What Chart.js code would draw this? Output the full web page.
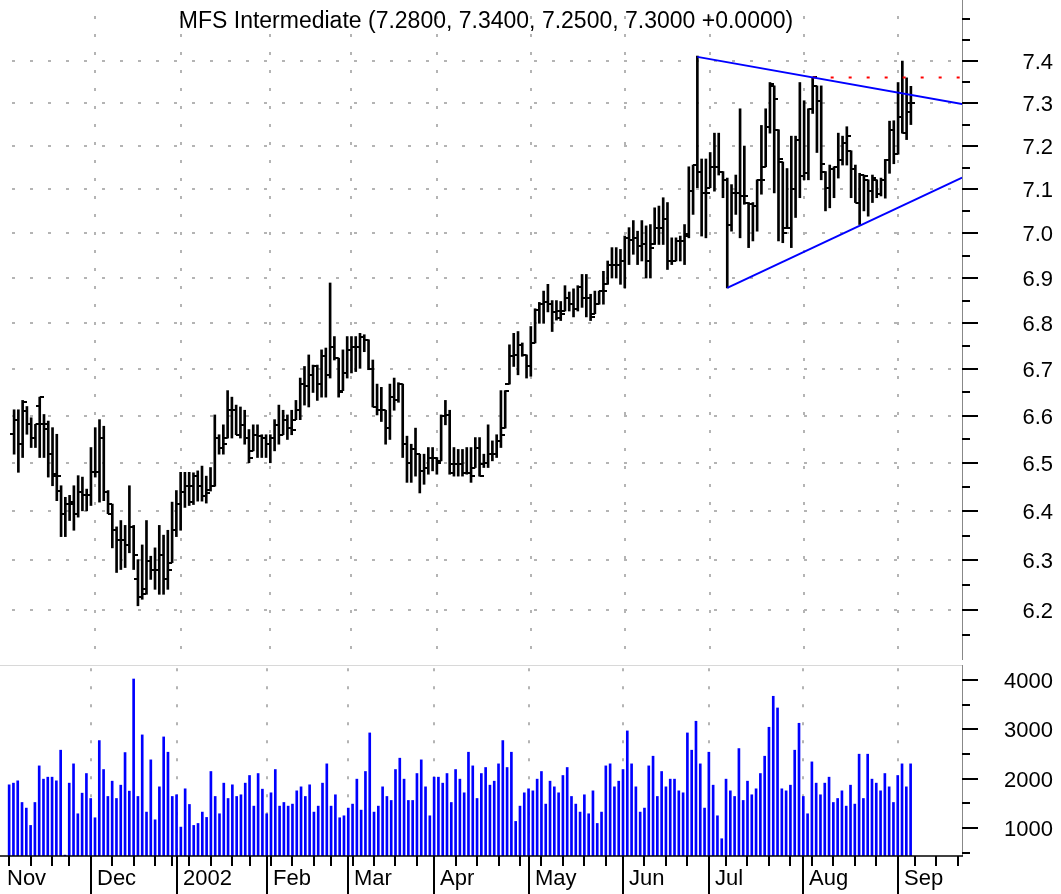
<!DOCTYPE html>
<html>
<head>
<meta charset="utf-8">
<script src="https://cdn.jsdelivr.net/npm/chart.js@4.4.1/dist/chart.umd.min.js"></script>
<style>
  body { margin: 0; background: #fff; }
  canvas { display: block; }
</style>
</head>
<body>
<canvas id="priceChart" width="1061" height="665"></canvas>
<canvas id="volumeChart" width="1061" height="229"></canvas>
<script>
// daily bars from Nov 5 2001 to Sep 6 2002, x = trading day number
const highPrices = [
  6.613, 6.613, 6.633, 6.620, 6.596, 6.582, 6.640, 6.603, 6.589, 6.575,
  6.561, 6.453, 6.429, 6.433, 6.453, 6.474, 6.471, 6.446, 6.533, 6.575,
  6.592, 6.578, 6.443, 6.415, 6.368, 6.381, 6.371, 6.453, 6.371, 6.301,
  6.331, 6.381, 6.308, 6.325, 6.371, 6.351, 6.361, 6.419, 6.443, 6.481,
  6.481, 6.481, 6.480, 6.484, 6.494, 6.473, 6.491, 6.602, 6.560, 6.581,
  6.654, 6.640, 6.623, 6.619, 6.612, 6.571, 6.581, 6.581, 6.560, 6.560,
  6.560, 6.592, 6.623, 6.612, 6.602, 6.612, 6.633, 6.681, 6.706, 6.731,
  6.709, 6.709, 6.742, 6.746, 6.889, 6.771, 6.724, 6.742, 6.771, 6.771,
  6.771, 6.778, 6.775, 6.764, 6.720, 6.668, 6.661, 6.612, 6.668, 6.681,
  6.671, 6.668, 6.557, 6.540, 6.574, 6.519, 6.519, 6.533, 6.533, 6.512,
  6.602, 6.633, 6.612, 6.533, 6.529, 6.529, 6.533, 6.533, 6.554, 6.554,
  6.519, 6.581, 6.547, 6.560, 6.654, 6.654, 6.753, 6.778, 6.782, 6.757,
  6.731, 6.793, 6.832, 6.846, 6.871, 6.886, 6.850, 6.850, 6.848, 6.883,
  6.869, 6.876, 6.883, 6.908, 6.908, 6.864, 6.871, 6.871, 6.915, 6.938,
  6.968, 6.968, 6.964, 6.994, 7.013, 7.029, 7.005, 7.029, 7.017, 7.020,
  7.058, 7.062, 7.081, 7.070, 6.990, 6.990, 6.994, 7.020, 7.152, 7.156,
  7.412, 7.170, 7.170, 7.185, 7.230, 7.230, 7.141, 7.126, 7.111, 7.133,
  7.287, 7.200, 7.070, 7.070, 7.122, 7.248, 7.287, 7.349, 7.341, 7.238,
  7.163, 7.148, 7.223, 7.223, 7.349, 7.306, 7.287, 7.361, 7.341, 7.341,
  7.141, 7.156, 7.152, 7.230, 7.223, 7.245, 7.189, 7.156, 7.137, 7.133,
  7.122, 7.133, 7.122, 7.126, 7.169, 7.258, 7.259, 7.349, 7.400, 7.360,
  7.340
];
const lowPrices = [
  6.519, 6.481, 6.512, 6.561, 6.533, 6.533, 6.512, 6.512, 6.471, 6.453,
  6.422, 6.348, 6.348, 6.381, 6.361, 6.388, 6.401, 6.401, 6.412, 6.471,
  6.419, 6.422, 6.395, 6.325, 6.275, 6.281, 6.285, 6.315, 6.281, 6.208,
  6.221, 6.231, 6.261, 6.241, 6.231, 6.231, 6.241, 6.295, 6.348, 6.361,
  6.408, 6.412, 6.414, 6.421, 6.421, 6.417, 6.442, 6.452, 6.519, 6.519,
  6.553, 6.553, 6.560, 6.553, 6.540, 6.501, 6.526, 6.512, 6.512, 6.512,
  6.501, 6.526, 6.540, 6.560, 6.550, 6.560, 6.592, 6.592, 6.623, 6.619,
  6.650, 6.633, 6.640, 6.640, 6.681, 6.720, 6.640, 6.654, 6.681, 6.692,
  6.695, 6.702, 6.738, 6.699, 6.619, 6.602, 6.588, 6.540, 6.550, 6.612,
  6.629, 6.512, 6.460, 6.460, 6.473, 6.438, 6.456, 6.477, 6.484, 6.477,
  6.505, 6.581, 6.477, 6.473, 6.473, 6.473, 6.477, 6.460, 6.491, 6.473,
  6.491, 6.491, 6.505, 6.512, 6.533, 6.574, 6.668, 6.706, 6.688, 6.728,
  6.681, 6.685, 6.757, 6.800, 6.800, 6.825, 6.782, 6.807, 6.806, 6.827,
  6.827, 6.814, 6.827, 6.835, 6.814, 6.806, 6.821, 6.842, 6.842, 6.886,
  6.900, 6.900, 6.886, 6.878, 6.930, 6.953, 6.930, 6.938, 6.900, 6.900,
  6.975, 6.975, 6.975, 6.919, 6.930, 6.938, 6.938, 6.930, 6.990, 7.043,
  7.104, 6.994, 6.990, 7.104, 7.096, 7.133, 7.081, 6.878, 7.005, 7.043,
  6.990, 7.066, 6.968, 6.983, 7.005, 7.089, 7.152, 7.230, 7.092, 6.983,
  6.979, 7.013, 6.968, 7.036, 7.081, 7.122, 7.122, 7.276, 7.185, 7.122,
  7.051, 7.058, 7.081, 7.126, 7.156, 7.156, 7.081, 7.070, 7.020, 7.051,
  7.039, 7.070, 7.081, 7.085, 7.080, 7.137, 7.159, 7.181, 7.230, 7.215,
  7.250
];
const openPrices = [
  6.561, 6.592, 6.540, 6.610, 6.582, 6.554, 6.620, 6.582, 6.572, 6.519,
  6.474, 6.443, 6.395, 6.415, 6.415, 6.395, 6.440, 6.433, 6.433, 6.481,
  6.481, 6.554, 6.440, 6.395, 6.361, 6.341, 6.341, 6.331, 6.368, 6.261,
  6.225, 6.241, 6.298, 6.281, 6.281, 6.311, 6.261, 6.295, 6.361, 6.415,
  6.440, 6.453, 6.452, 6.473, 6.452, 6.431, 6.445, 6.452, 6.553, 6.533,
  6.553, 6.612, 6.612, 6.560, 6.581, 6.553, 6.526, 6.560, 6.557, 6.553,
  6.540, 6.553, 6.581, 6.560, 6.592, 6.574, 6.592, 6.612, 6.668, 6.664,
  6.688, 6.706, 6.668, 6.728, 6.688, 6.749, 6.724, 6.654, 6.692, 6.742,
  6.749, 6.749, 6.771, 6.764, 6.700, 6.619, 6.612, 6.612, 6.574, 6.640,
  6.633, 6.668, 6.540, 6.501, 6.529, 6.519, 6.484, 6.491, 6.512, 6.512,
  6.505, 6.599, 6.602, 6.498, 6.498, 6.498, 6.480, 6.480, 6.491, 6.533,
  6.498, 6.501, 6.519, 6.519, 6.547, 6.574, 6.668, 6.728, 6.731, 6.753,
  6.731, 6.706, 6.757, 6.829, 6.843, 6.846, 6.843, 6.825, 6.827, 6.827,
  6.856, 6.842, 6.831, 6.880, 6.856, 6.856, 6.821, 6.842, 6.871, 6.886,
  6.930, 6.930, 6.930, 6.938, 6.990, 6.986, 6.990, 6.971, 6.975, 6.938,
  6.975, 7.013, 7.013, 7.032, 6.938, 6.938, 6.983, 6.983, 6.998, 7.096,
  7.156, 7.141, 7.092, 7.104, 7.152, 7.152, 7.141, 7.122, 7.020, 7.092,
  7.092, 7.085, 7.070, 7.066, 7.062, 7.122, 7.152, 7.245, 7.341, 7.238,
  7.163, 7.013, 7.013, 7.100, 7.215, 7.130, 7.137, 7.287, 7.341, 7.306,
  7.141, 7.104, 7.148, 7.152, 7.167, 7.208, 7.189, 7.148, 7.070, 7.133,
  7.122, 7.096, 7.122, 7.089, 7.122, 7.167, 7.238, 7.181, 7.268, 7.230,
  7.280
];
const closePrices = [
  6.592, 6.540, 6.630, 6.582, 6.554, 6.582, 6.640, 6.582, 6.519, 6.478,
  6.474, 6.395, 6.415, 6.419, 6.395, 6.440, 6.433, 6.433, 6.481, 6.481,
  6.554, 6.440, 6.415, 6.361, 6.341, 6.341, 6.331, 6.368, 6.311, 6.225,
  6.231, 6.298, 6.281, 6.281, 6.311, 6.261, 6.281, 6.361, 6.415, 6.440,
  6.453, 6.419, 6.473, 6.452, 6.431, 6.438, 6.452, 6.553, 6.533, 6.540,
  6.612, 6.612, 6.560, 6.581, 6.553, 6.512, 6.560, 6.557, 6.553, 6.540,
  6.553, 6.581, 6.560, 6.592, 6.574, 6.571, 6.612, 6.668, 6.664, 6.688,
  6.706, 6.668, 6.728, 6.688, 6.749, 6.724, 6.650, 6.692, 6.742, 6.749,
  6.749, 6.771, 6.764, 6.700, 6.619, 6.612, 6.612, 6.574, 6.640, 6.633,
  6.668, 6.540, 6.501, 6.529, 6.519, 6.484, 6.491, 6.512, 6.512, 6.501,
  6.599, 6.602, 6.480, 6.498, 6.498, 6.480, 6.480, 6.473, 6.533, 6.473,
  6.501, 6.519, 6.519, 6.547, 6.560, 6.654, 6.728, 6.731, 6.753, 6.731,
  6.706, 6.757, 6.829, 6.843, 6.846, 6.843, 6.825, 6.811, 6.820, 6.856,
  6.842, 6.831, 6.880, 6.856, 6.856, 6.814, 6.842, 6.871, 6.871, 6.930,
  6.930, 6.930, 6.938, 6.990, 6.986, 6.990, 6.971, 6.975, 6.938, 6.968,
  7.013, 7.013, 7.032, 6.938, 6.938, 6.983, 6.983, 6.994, 7.096, 7.156,
  7.141, 7.092, 7.092, 7.152, 7.152, 7.141, 7.122, 7.020, 7.092, 7.092,
  7.085, 7.085, 7.066, 7.062, 7.122, 7.122, 7.245, 7.345, 7.310, 7.170,
  7.002, 7.013, 7.100, 7.215, 7.130, 7.137, 7.287, 7.361, 7.306, 7.159,
  7.104, 7.148, 7.152, 7.167, 7.208, 7.223, 7.148, 7.070, 7.133, 7.130,
  7.096, 7.126, 7.089, 7.122, 7.167, 7.238, 7.181, 7.268, 7.230, 7.300,
  7.300
];
const volumes = [
  1875, 1909, 1956, 1517, 1403, 1052, 1517, 2259, 1990, 2030,
  2030, 1956, 2577, 450, 1909, 2300, 1288, 1706, 2104, 1598,
  1207, 2772, 2185, 1639, 1949, 1598, 1868, 2529, 1747, 4020,
  1639, 2887, 1322, 2381, 1166, 1834, 2846, 2536, 1639, 1673,
  1018, 1794, 1477, 1052, 1092, 1322, 1214, 2145, 1639, 1288,
  1909, 1598, 1875, 1639, 1673, 1909, 2064, 1443, 2104, 1787,
  1288, 1713, 2185, 1443, 1517, 1443, 1484, 1753, 1834, 1639,
  1875, 1322, 1443, 1909, 2300, 1443, 1673, 1207, 1247, 1403,
  1484, 1990, 1362, 2145, 2927, 1322, 1443, 1834, 1639, 1558,
  2185, 2415, 1990, 1558, 1558, 2104, 2381, 1834, 1247, 2030,
  2030, 1909, 2104, 1517, 2185, 1990, 1713, 2536, 2259, 1598,
  2104, 2226, 1868, 1949, 2300, 2772, 2226, 2536, 1133, 1443,
  1713, 1794, 1753, 1990, 2145, 1484, 1949, 1834, 1713, 2064,
  2226, 1639, 1484, 1322, 1673, 1288, 1753, 1092, 1322, 2259,
  2300, 1834, 1949, 2185, 2968, 2300, 1834, 1322, 1403, 2259,
  2455, 1639, 2145, 1834, 1990, 1990, 1753, 1713, 2927, 2577,
  3164, 2300, 1403, 2536, 1868, 1247, 782, 1990, 1753, 1639,
  2610, 1558, 1949, 1673, 1794, 2104, 2455, 3042, 3670, 3433,
  1794, 1753, 1868, 2577, 3123, 1639, 1288, 2340, 1909, 1673,
  1909, 2030, 1517, 1598, 1753, 1443, 1868, 1484, 2496, 1598,
  2496, 1990, 1909, 1753, 2104, 1834, 1517, 2064, 2300, 1834,
  2300
];

// axis categories
const monthStarts = [-2, 19, 39, 60, 79, 99, 121, 143, 163, 185, 207];
const monthLabels = ['Nov', 'Dec', '2002', 'Feb', 'Mar', 'Apr', 'May', 'Jun', 'Jul', 'Aug', 'Sep'];
const weekStarts = [0, 5, 10, 14, 19, 24, 29, 34, 38, 42, 47, 52, 56, 61, 66, 71, 75, 80, 85, 90,
  95, 99, 104, 109, 114, 119, 124, 129, 134, 139, 143, 148, 153, 158, 163, 167, 172, 177, 182,
  187, 192, 197, 202, 207, 211, 216, 221];
const priceLabels = ['6.2', '6.3', '6.4', '6.5', '6.6', '6.7', '6.8', '6.9', '7.0', '7.1', '7.2', '7.3', '7.4'];
const priceMinorTicks = [6.15, 6.25, 6.35, 6.45, 6.55, 6.65, 6.75, 6.85, 6.95, 7.05, 7.15, 7.25, 7.35, 7.45, 7.5];
const volumeLabels = ['1000', '2000', '3000', '4000'];
const volumeMinorTicks = [500, 1500, 2500, 3500];

// drawn lines (trading day, price)
const upperTrendX = [160, 222];
const upperTrendY = [7.41, 7.298];
const lowerTrendX = [167, 222];
const lowerTrendY = [6.878, 7.127];
const resistanceX = [187, 222];
const resistanceY = [7.361, 7.361];

const X_MIN = -2.13, X_MAX = 221.97;
const AXIS_W = 99;
const FONT = '22px "Liberation Sans", Arial, sans-serif';
const TITLE_FONT = '23px "Liberation Sans", Arial, sans-serif';
const GRID = '#b4b4b4';

const last = closePrices.length - 1;
const change = closePrices[last] - closePrices[last - 1];
const titleText = 'MFS Intermediate (' + openPrices[last].toFixed(4) + ', ' + highPrices[last].toFixed(4) + ', ' +
  lowPrices[last].toFixed(4) + ', ' + closePrices[last].toFixed(4) + ' ' + (change >= 0 ? '+' : '') + change.toFixed(4) + ')';

const toPoints = (xs, ys) => xs.map((x, i) => ({ x: x, y: ys[i] }));

function tickImage(side) {
  const c = document.createElement('canvas');
  c.width = 8; c.height = 2;
  const g = c.getContext('2d');
  g.fillStyle = '#000';
  g.fillRect(side === 'left' ? 0 : 4, 0, 4, 2);
  return c;
}

function seg(ctx, x1, y1, x2, y2) {
  ctx.beginPath(); ctx.moveTo(x1, y1); ctx.lineTo(x2, y2); ctx.stroke();
}

function drawMonthGrid(chart, dashOffset) {
  const { ctx, chartArea: a, scales: { x } } = chart;
  ctx.save();
  ctx.strokeStyle = GRID; ctx.lineWidth = 2;
  ctx.setLineDash([3, 15]); ctx.lineDashOffset = dashOffset;
  monthStarts.forEach(i => {
    if (i < 0) return;
    const px = Math.round(x.getPixelForValue(i));
    seg(ctx, px, a.top, px, a.bottom);
  });
  ctx.restore();
}

function drawRightAxis(chart, scale, labels, minors, baselineShift) {
  const { ctx, chartArea: a } = chart;
  ctx.save();
  ctx.strokeStyle = '#888'; ctx.lineWidth = 1;
  seg(ctx, a.right + 0.5, 0, a.right + 0.5, a.bottom);
  ctx.strokeStyle = '#000'; ctx.lineWidth = 2;
  minors.forEach(v => {
    const y = Math.round(scale.getPixelForValue(v));
    seg(ctx, a.right, y, a.right + 8, y);
  });
  ctx.fillStyle = '#000'; ctx.font = FONT;
  ctx.textAlign = 'right'; ctx.textBaseline = 'alphabetic';
  labels.forEach(t => {
    const y = Math.round(scale.getPixelForValue(parseFloat(t)));
    seg(ctx, a.right, y, a.right + 16, y);
    ctx.fillText(t, chart.width - 8, y + baselineShift);
  });
  ctx.restore();
}

const priceAxes = {
  id: 'priceAxes',
  beforeDatasetsDraw(chart) {
    const { ctx, chartArea: a, scales: { y } } = chart;
    ctx.save();
    ctx.strokeStyle = GRID; ctx.lineWidth = 2;
    ctx.setLineDash([3, 15]); ctx.lineDashOffset = 11;
    priceLabels.forEach(t => {
      const py = Math.round(y.getPixelForValue(parseFloat(t)));
      seg(ctx, a.left, py, a.right, py);
    });
    ctx.restore();
    drawMonthGrid(chart, 7);
  },
  afterDraw(chart) {
    const { ctx } = chart;
    drawRightAxis(chart, chart.scales.y, priceLabels, priceMinorTicks, 8);
    ctx.save();
    ctx.fillStyle = '#000'; ctx.font = TITLE_FONT;
    ctx.textAlign = 'center'; ctx.textBaseline = 'alphabetic';
    ctx.fillText(titleText, 486, 28);
    ctx.restore();
  }
};

const volumeAxes = {
  id: 'volumeAxes',
  beforeDatasetsDraw(chart) {
    const { ctx, chartArea: a } = chart;
    ctx.save();
    ctx.strokeStyle = '#d8d8d8'; ctx.lineWidth = 1;
    seg(ctx, a.left, 0.5, a.right, 0.5);
    ctx.restore();
    drawMonthGrid(chart, 14.7);
  },
  afterDraw(chart) {
    const { ctx, chartArea: a, scales: { x } } = chart;
    drawRightAxis(chart, chart.scales.y, volumeLabels, volumeMinorTicks, 8);
    ctx.save();
    ctx.strokeStyle = '#000'; ctx.lineWidth = 1.5;
    seg(ctx, a.left, a.bottom, a.right + 1, a.bottom);
    ctx.lineWidth = 2;
    weekStarts.forEach(i => {
      const px = Math.round(x.getPixelForValue(i));
      seg(ctx, px, a.bottom, px, a.bottom + 10);
    });
    ctx.fillStyle = '#000'; ctx.font = FONT;
    ctx.textAlign = 'left'; ctx.textBaseline = 'alphabetic';
    monthStarts.forEach((i, k) => {
      const px = Math.round(x.getPixelForValue(i));
      if (i >= 0) seg(ctx, px, a.bottom, px, chart.height);
      ctx.fillText(monthLabels[k], Math.max(px, 0) + 6, a.bottom + 29);
    });
    ctx.restore();
  }
};

Chart.defaults.font.family = '"Liberation Sans", Arial, sans-serif';

const priceChart = new Chart(document.getElementById('priceChart'), {
  type: 'bar',
  data: {
    datasets: [
      { type: 'line', data: toPoints(upperTrendX, upperTrendY), borderColor: '#0000ff', borderWidth: 2, pointRadius: 0, order: 0 },
      { type: 'line', data: toPoints(lowerTrendX, lowerTrendY), borderColor: '#0000ff', borderWidth: 2, pointRadius: 0, order: 0 },
      { type: 'line', data: toPoints(resistanceX, resistanceY), borderColor: '#ff0000', borderWidth: 2, borderDash: [3, 15], pointRadius: 0, order: 0 },
      { type: 'scatter', data: openPrices.map((v, i) => ({ x: i, y: v })), pointStyle: tickImage('left'), pointRadius: 3, order: 1 },
      { type: 'scatter', data: closePrices.map((v, i) => ({ x: i, y: v })), pointStyle: tickImage('right'), pointRadius: 3, order: 1 },
      { type: 'bar', data: highPrices.map((h, i) => ({ x: i, y: [lowPrices[i], h] })), backgroundColor: '#000', borderWidth: 0, barThickness: 2, order: 2 }
    ]
  },
  options: {
    responsive: false,
    animation: false,
    devicePixelRatio: 1,
    layout: { padding: { left: 0, right: AXIS_W, top: 0, bottom: 0 } },
    plugins: { legend: { display: false }, tooltip: { enabled: false } },
    scales: {
      x: { type: 'linear', display: false, min: X_MIN, max: X_MAX, offset: false, bounds: 'data' },
      y: { type: 'logarithmic', display: false, min: 6.1004, max: 7.535, bounds: 'data' }
    }
  },
  plugins: [priceAxes]
});

const volumeChart = new Chart(document.getElementById('volumeChart'), {
  type: 'bar',
  data: {
    datasets: [{
      data: volumes.map((v, i) => ({ x: i, y: v })),
      backgroundColor: '#0000ff', borderWidth: 0, barThickness: 2, base: 432, clip: 0
    }]
  },
  options: {
    responsive: false,
    animation: false,
    devicePixelRatio: 1,
    layout: { padding: { left: 0, right: AXIS_W, top: 0, bottom: 38 } },
    plugins: { legend: { display: false }, tooltip: { enabled: false } },
    scales: {
      x: { type: 'linear', display: false, min: X_MIN, max: X_MAX, offset: false, bounds: 'data' },
      y: { type: 'linear', display: false, min: 432, max: 4304, bounds: 'data' }
    }
  },
  plugins: [volumeAxes]
});
</script>
</body>
</html>
